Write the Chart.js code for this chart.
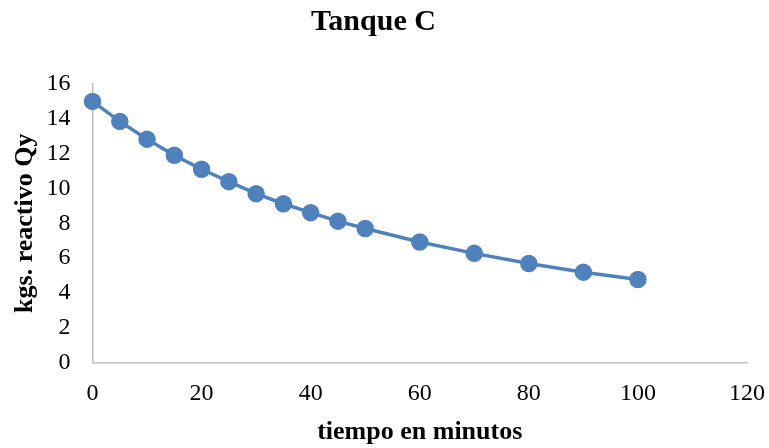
<!DOCTYPE html>
<html>
<head>
<meta charset="utf-8">
<script src="https://cdn.jsdelivr.net/npm/chart.js@4"></script>
<style>
  html, body { margin: 0; padding: 0; background: #fff; }
  #wrap { width: 769px; height: 448px; position: relative; }
</style>
</head>
<body>
<div id="wrap"><canvas id="tanque-c"></canvas></div>
<script>
// Tanque C - kgs de reactivo Qy vs tiempo
const tiempo = [0, 5, 10, 15, 20, 25, 30, 35, 40, 45, 50, 60, 70, 80, 90, 100];
const kgsQy = [15.0, 13.85, 12.83, 11.91, 11.1, 10.39, 9.7, 9.12, 8.61, 8.12, 7.7, 6.92, 6.27, 5.69, 5.19, 4.77];
const xTicks = [0, 20, 40, 60, 80, 100, 120];
const yTicks = [0, 2, 4, 6, 8, 10, 12, 14, 16];

const serif = '"Liberation Serif", "Times New Roman", serif';
const axisGray = '#bfbfbf';
const lineBlue = '#4f81bd';

new Chart(document.getElementById('tanque-c'), {
    type: 'scatter',
    data: {
        datasets: [{
            label: 'Tanque C',
            data: tiempo.map((t, i) => ({ x: t, y: kgsQy[i] })),
            showLine: true,
            clip: false,
            borderColor: lineBlue,
            backgroundColor: lineBlue,
            borderWidth: 3.5,
            pointRadius: 7,
            pointHoverRadius: 7,
            tension: 0
        }]
    },
    options: {
        responsive: true,
        maintainAspectRatio: false,
        animation: false,
        layout: { padding: { left: 0, right: 22, top: 0, bottom: 0 } },
        plugins: {
            legend: { display: false },
            tooltip: { enabled: false },
            title: {
                display: true,
                text: 'Tanque C',
                color: '#000',
                font: { family: serif, size: 30, weight: 'bold' },
                padding: { top: 4, bottom: 44 }
            }
        },
        scales: {
            x: {
                type: 'linear',
                min: 0,
                max: 120,
                afterBuildTicks: axis => { axis.ticks = xTicks.map(v => ({ value: v })); },
                afterFit: axis => {
                    axis.height = 85.5;
                    axis.paddingLeft = 0;
                    axis.paddingRight = 0;
                },
                grid: { display: false, drawTicks: false },
                border: { display: true, color: axisGray, width: 1.5 },
                ticks: {
                    color: '#000',
                    padding: 17,
                    font: { family: serif, size: 24 }
                },
                title: {
                    display: true,
                    text: 'tiempo en minutos',
                    color: '#000',
                    font: { family: serif, size: 26, weight: 'bold' },
                    padding: { top: 0, bottom: 0 }
                }
            },
            y: {
                min: 0,
                max: 16,
                afterBuildTicks: axis => { axis.ticks = yTicks.map(v => ({ value: v })); },
                afterFit: axis => { axis.width = 92.5; },
                grid: { display: false, drawTicks: false },
                border: { display: true, color: axisGray, width: 1.5 },
                ticks: {
                    color: '#000',
                    padding: 22,
                    font: { family: serif, size: 24 }
                },
                title: {
                    display: true,
                    text: 'kgs. reactivo Qy',
                    color: '#000',
                    font: { family: serif, size: 26, weight: 'bold' },
                    padding: { top: 10, bottom: 0 }
                }
            }
        }
    }
});
</script>
</body>
</html>
